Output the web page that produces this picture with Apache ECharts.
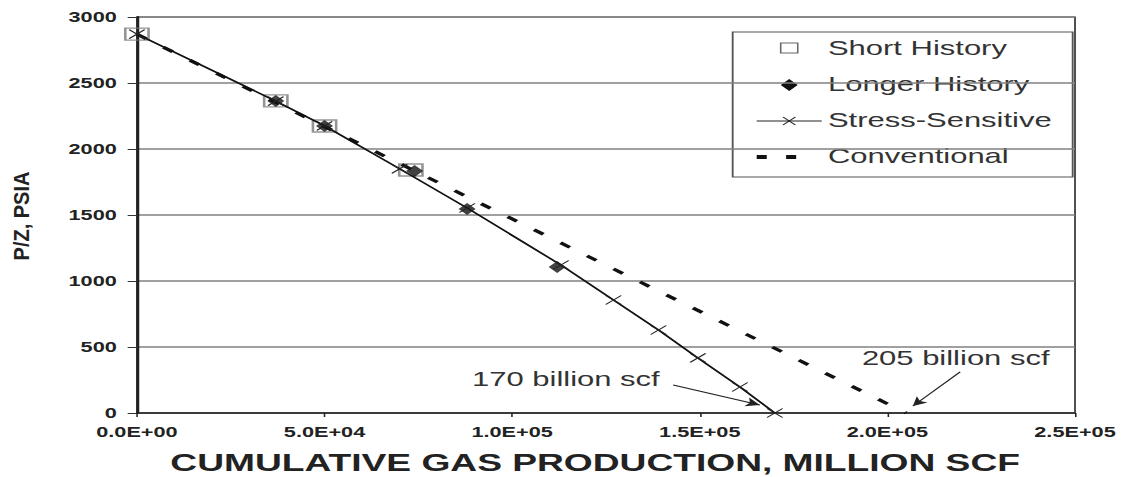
<!doctype html>
<html>
    <head>
        <meta charset="utf-8">
        <style>
            html, body { margin: 0; padding: 0; overflow: hidden; background: #fff; }
            /* the source figure is stretched sideways, so draw narrow and stretch the same way */
            #main { width: 725px; height: 477px; transform: scaleX(1.549); transform-origin: 0 0; }
        </style>
    </head>
    <body>
        <div id="main"></div>
        <script src="https://cdn.jsdelivr.net/npm/echarts@6.0.0/dist/echarts.min.js"></script>
        <script>
            var shortX = [0, 37000, 50000, 73000];
            var shortY = [2870, 2364, 2174, 1841];

            var longX = [37000, 50000, 74000, 88000, 112000];
            var longY = [2364, 2174, 1833, 1545, 1106];

            var stressX = [0, 37000, 50000, 70000, 88000, 113000, 127000, 139000, 149500, 160700, 170000];
            var stressY = [2870, 2363, 2175, 1850, 1553, 1121, 856, 629, 417, 197, 0];

            var convX = [0, 205000];
            var convY = [2870, 0];

            var names = ['Short History', 'Longer History', 'Stress-Sensitive', 'Conventional'];
            var notes = ['170 billion scf', '205 billion scf'];
            var noteAt = [[89300, 258], [193200, 417]];
            var arrowFrom = [[142900, 212], [219400, 311]];
            var arrowTo = [[166000, 61], [206800, 53]];

            var FONT = '"Liberation Sans", Arial, sans-serif';
            var XMARK = 'path://M0,0L10,10M10,0L0,10';

            function pairs(xs, ys) {
                return xs.map(function (x, i) { return [x, ys[i]]; });
            }

            function sciLabel(v) {
                var s = v.toExponential(1).toUpperCase();
                var m = s.split('E');
                var sign = m[1].charAt(0);
                var exp = m[1].slice(1);
                if (exp.length < 2) exp = '0' + exp;
                return m[0] + 'E' + sign + exp;
            }

            var chart = echarts.init(document.getElementById('main'), null, { renderer: 'svg' });

            // legend drawn by hand (rows at fixed offsets inside the box)
            var LX = 473, LY = 32;
            var legend = [
                { type: 'rect', shape: { x: 0, y: 0, width: 219.5, height: 145 },
                  style: { fill: '#fff', stroke: '#555', lineWidth: 1.2 } },
                { type: 'rect', shape: { x: 31, y: 11, width: 11, height: 10 },
                  style: { fill: '#fff', stroke: '#666', lineWidth: 1 } },
                { type: 'polygon', shape: { points: [[36.5, 47], [42, 53], [36.5, 59], [31, 53]] },
                  style: { fill: '#111' } },
                { type: 'line', shape: { x1: 15.5, y1: 89, x2: 57.5, y2: 89 },
                  style: { stroke: '#222', lineWidth: 1.2 } },
                { type: 'polyline', shape: { points: [[32.5, 85], [40.5, 93]] },
                  style: { stroke: '#222', lineWidth: 1, fill: null } },
                { type: 'polyline', shape: { points: [[40.5, 85], [32.5, 93]] },
                  style: { stroke: '#222', lineWidth: 1, fill: null } },
                { type: 'rect', shape: { x: 15.5, y: 123, width: 6.5, height: 4 }, style: { fill: '#111' } },
                { type: 'rect', shape: { x: 34.5, y: 123, width: 6.5, height: 4 }, style: { fill: '#111' } }
            ];
            names.forEach(function (n, i) {
                legend.push({
                    type: 'text', x: 61.5, y: 16 + i * 36,
                    style: { text: n, fill: '#333', font: '20px ' + FONT, verticalAlign: 'middle' }
                });
            });

            chart.setOption({
                animation: false,
                backgroundColor: '#fff',
                grid: {
                    left: 88.4, right: 31, top: 17, bottom: 64,
                    outerBoundsMode: 'none',
                    show: true, borderColor: '#444', borderWidth: 1.2
                },
                xAxis: {
                    type: 'value', min: 0, max: 250000, interval: 50000,
                    name: 'CUMULATIVE GAS PRODUCTION, MILLION SCF',
                    nameLocation: 'middle', nameGap: 38,
                    nameTextStyle: { fontFamily: FONT, fontSize: 24, fontWeight: 'bold', color: '#222',
                                     lineHeight: 24, padding: [0, 14, 0, 0] },
                    axisLine: { lineStyle: { color: '#222', width: 1.5 } },
                    axisTick: { length: 4, lineStyle: { color: '#222' } },
                    axisLabel: { formatter: sciLabel, margin: 12, fontFamily: FONT, fontSize: 14, fontWeight: 'bold', color: '#222' },
                    splitLine: { show: false }
                },
                yAxis: {
                    type: 'value', min: 0, max: 3000, interval: 500,
                    axisLine: { show: true, lineStyle: { color: '#222', width: 1.8 } },
                    axisTick: { show: true, length: 6, lineStyle: { color: '#333' } },
                    axisLabel: { formatter: function (v) { return String(v); }, margin: 13,
                                 fontFamily: FONT, fontSize: 14, fontWeight: 'bold', color: '#222' },
                    splitLine: { lineStyle: { color: '#808080', width: 1.5 } }
                },
                graphic: [
                    { type: 'group', x: LX, y: LY, z: 100, children: legend },
                    {
                        type: 'text', x: 13.5, y: 216, rotation: Math.PI / 2, scaleY: 0.72, z: 100,
                        style: { text: 'P/Z, PSIA', fill: '#222', font: 'bold 20px ' + FONT, align: 'center', verticalAlign: 'middle' }
                    }
                ],
                series: [
                    {
                        name: names[3], type: 'line', data: pairs(convX, convY),
                        symbol: 'none',
                        lineStyle: { color: '#111', width: 3, type: [7.5, 14] },
                        markLine: {
                            silent: true, symbol: ['none', 'arrow'], symbolSize: [7, 9],
                            label: { show: false },
                            lineStyle: { color: '#222', width: 1, type: 'solid' },
                            data: arrowFrom.map(function (a, i) {
                                return [{ coord: a }, { coord: arrowTo[i] }];
                            })
                        },
                        markPoint: {
                            silent: true, symbol: 'circle', symbolSize: 0,
                            itemStyle: { color: 'rgba(0,0,0,0)' },
                            data: notes.map(function (t, i) {
                                return {
                                    coord: noteAt[i],
                                    label: { show: true, formatter: t, position: 'right', distance: 0,
                                             color: '#333', fontFamily: FONT, fontSize: 20 }
                                };
                            })
                        }
                    },
                    {
                        name: names[2], type: 'line', data: pairs(stressX, stressY),
                        symbol: XMARK, symbolSize: [10, 9],
                        itemStyle: { color: 'rgba(0,0,0,0)', borderColor: '#222', borderWidth: 1 },
                        lineStyle: { color: '#111', width: 1.5 }
                    },
                    {
                        name: names[0], type: 'scatter', data: pairs(shortX, shortY),
                        symbol: 'rect', symbolSize: [15, 12],
                        itemStyle: { color: 'rgba(0,0,0,0)', borderColor: '#7a7a7a', borderWidth: 1.5 }
                    },
                    {
                        name: names[1], type: 'scatter', data: pairs(longX, longY),
                        symbol: 'diamond', symbolSize: [11, 12],
                        itemStyle: { color: '#111' }
                    }
                ]
            });

            window.addEventListener('resize', function () {
                chart.resize();
            });
        </script>
    </body>
</html>
